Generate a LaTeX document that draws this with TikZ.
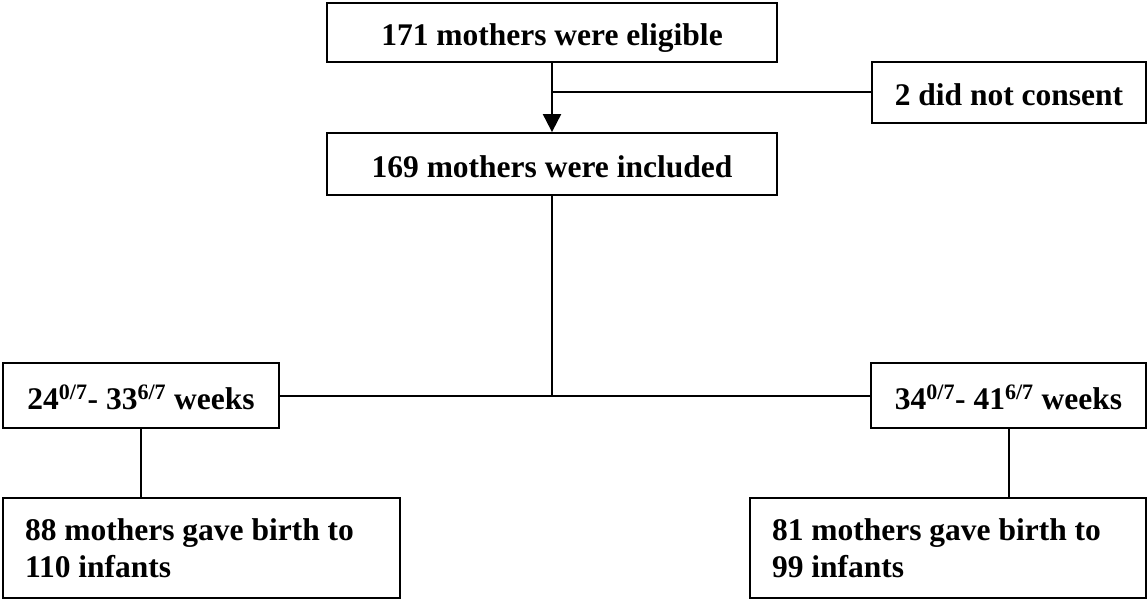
\documentclass[tikz,border=0pt]{standalone}
\usepackage{fontspec}
\setmainfont{Liberation Serif}
\usetikzlibrary{arrows.meta}
\tikzset{
  box/.style={draw=black, line width=1.8pt, fill=white, inner sep=0pt, anchor=center,
    font=\fontsize{31.5}{37}\selectfont\bfseries, align=center, text height=27pt, text depth=0pt},
  leftbox/.style={draw=black, line width=1.8pt, fill=white, inner xsep=0pt, inner ysep=0pt, anchor=center,
    font=\fontsize{31.5}{37}\selectfont\bfseries, align=flush left, text width=#1},
  conn/.style={line width=2pt, draw=black},
}
\begin{document}
\begin{tikzpicture}[x=1pt, y=-1pt]
\useasboundingbox (0,0) rectangle (1148,599);
\node[box, minimum width=450pt, minimum height=59pt] (elig) at (552,32.5) {171 mothers were eligible};
\node[box, minimum width=450pt, minimum height=62pt] (incl) at (552,164) {169 mothers were included};
\node[box, minimum width=274pt, minimum height=61pt] (cons) at (1009,92.5) {2 did not consent};
\node[box, minimum width=276pt, minimum height=65pt] (early) at (141,395.5) {24\textsuperscript{0/7}- 33\textsuperscript{6/7} weeks};
\node[box, minimum width=275pt, minimum height=65pt] (late) at (1008.5,395.5) {34\textsuperscript{0/7}- 41\textsuperscript{6/7} weeks};
\node[leftbox=353pt, minimum width=397pt, minimum height=100pt] (bl) at (201.5,548) {88 mothers gave birth to\\110 infants};
\node[leftbox=352pt, minimum width=396pt, minimum height=100pt] (br) at (948,548) {81 mothers gave birth to\\99 infants};
\coordinate (j1) at (elig.south |- cons.west);
\coordinate (j2) at (incl.south |- early.east);
\draw[conn, -{Triangle[length=18pt,width=18pt]}] (elig.south) -- (incl.north);
\draw[conn] (j1) -- (cons.west);
\draw[conn] (incl.south) -- (j2);
\draw[conn] (early.east) -- (late.west);
\draw[conn] (early.south) -- (early.south |- bl.north);
\draw[conn] (late.south) -- (late.south |- br.north);
\end{tikzpicture}
\end{document}
